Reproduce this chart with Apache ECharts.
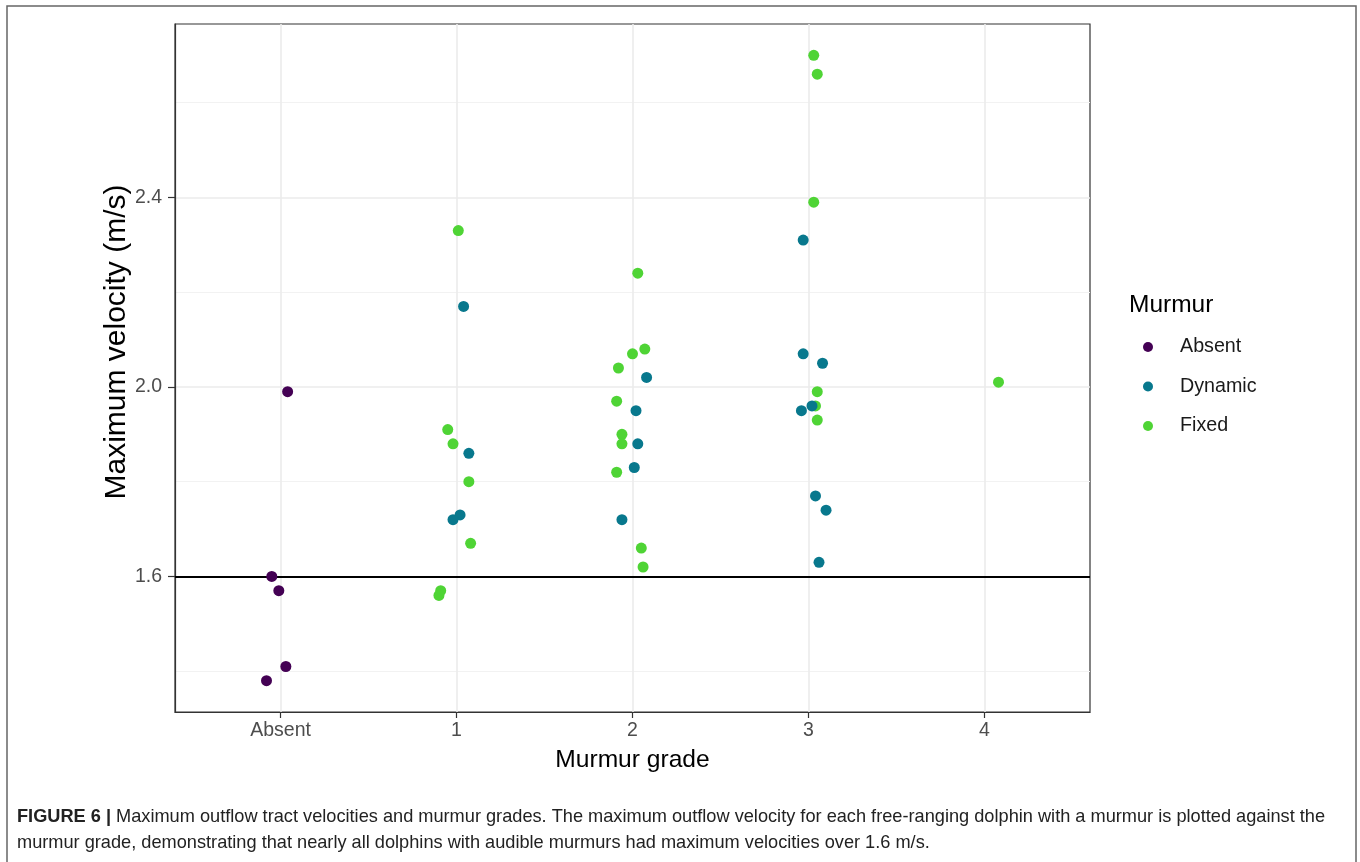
<!DOCTYPE html>
<html>
<head>
<meta charset="utf-8">
<title>Murmur grade vs maximum velocity</title>
<script src="https://cdn.jsdelivr.net/npm/echarts@6/dist/echarts.min.js"></script>
<style>
  html, body { margin: 0; padding: 0; background: #fff; }
  #chart { width: 1360px; height: 862px; }
</style>
</head>
<body>
<div id="chart"></div>
<script>
const FONT = '"Liberation Sans", Arial, Helvetica, sans-serif'

// grade categories sit at 0..4 on a numeric axis so the jitter can be kept
const gradeTicks = [0, 1, 2, 3, 4]
const gradeLabels = ['Absent', '1', '2', '3', '4']
const yMajor = [1.6, 2.0, 2.4]
const yMinor = [1.4, 1.8, 2.2, 2.6]
const threshold = 1.6

// points: x = grade position + jitter, y = max velocity (m/s)
const absentX = [0.04, -0.05, -0.01, 0.03, -0.08]
const absentY = [1.99, 1.60, 1.57, 1.41, 1.38]

const dynamicX = [1.04, 1.07, 1.02, 0.98,
  2.08, 2.02, 2.03, 2.01, 1.94,
  2.97, 2.97, 3.08, 3.02, 2.96, 3.04, 3.10, 3.06]
const dynamicY = [2.17, 1.86, 1.73, 1.72,
  2.02, 1.95, 1.88, 1.83, 1.72,
  2.31, 2.07, 2.05, 1.96, 1.95, 1.77, 1.74, 1.63]

const fixedX = [1.01, 0.95, 0.98, 1.07, 1.08, 0.91, 0.90,
  2.03, 2.07, 2.00, 1.92, 1.91, 1.94, 1.94, 1.91, 2.05, 2.06,
  3.03, 3.05, 3.03, 3.05, 3.04, 3.05,
  4.08]
const fixedY = [2.33, 1.91, 1.88, 1.80, 1.67, 1.57, 1.56,
  2.24, 2.08, 2.07, 2.04, 1.97, 1.90, 1.88, 1.82, 1.66, 1.62,
  2.70, 2.66, 2.39, 1.99, 1.96, 1.93,
  2.01]

const COLORS = { Absent: '#440154', Dynamic: '#08788d', Fixed: '#4fd435' }

const zip = (xs, ys) => xs.map((x, i) => [x, ys[i]])

const chart = echarts.init(document.getElementById('chart'))

function pointSeries(name, xs, ys, extra) {
  return Object.assign({
    name: name,
    type: 'scatter',
    symbol: 'circle',
    symbolSize: 11,
    itemStyle: { color: COLORS[name], opacity: 1 },
    emphasis: { disabled: true },
    data: zip(xs, ys)
  }, extra || {})
}

const axisLineStyle = { color: '#333', width: 1.2 }

const option = {
  animation: false,
  backgroundColor: '#fff',
  textStyle: { fontFamily: FONT },
  title: {
    text: 'Murmur',
    left: 1124,
    top: 288,
    textStyle: { fontSize: 24.5, fontWeight: 'normal', color: '#000', fontFamily: FONT }
  },
  legend: {
    orient: 'vertical',
    left: 1138,
    top: 332,
    itemWidth: 54,
    itemHeight: 10,
    itemGap: 19.5,
    icon: 'circle',
    data: ['Absent', 'Dynamic', 'Fixed'],
    textStyle: { fontSize: 19.7, color: '#1a1a1a', fontFamily: FONT }
  },
  grid: {
    left: 175,
    top: 24,
    right: 270,
    bottom: 150,
    show: true,
    backgroundColor: '#fff',
    borderColor: '#333',
    borderWidth: 1.2
  },
  xAxis: {
    type: 'value',
    min: -0.6,
    max: 4.6,
    name: 'Murmur grade',
    nameLocation: 'middle',
    nameGap: 36,
    nameTextStyle: { fontSize: 24.6, color: '#000', fontFamily: FONT },
    axisLine: { show: true, onZero: false, lineStyle: axisLineStyle },
    axisTick: { show: true, length: 6, customValues: gradeTicks, lineStyle: axisLineStyle },
    axisLabel: {
      customValues: gradeTicks,
      margin: 9,
      fontSize: 19.5,
      color: '#4d4d4d',
      fontFamily: FONT,
      formatter: v => gradeLabels[Math.round(v)]
    },
    splitLine: { show: true, lineStyle: { color: '#ebebeb', width: 1.6 } }
  },
  yAxis: [{
    type: 'value',
    min: 1.314,
    max: 2.766,
    axisLine: { show: true, onZero: false, lineStyle: axisLineStyle },
    axisTick: { show: true, length: 7, customValues: yMajor, lineStyle: axisLineStyle },
    axisLabel: {
      customValues: yMajor,
      margin: 13,
      fontSize: 19.5,
      color: '#4d4d4d',
      fontFamily: FONT,
      formatter: v => v.toFixed(1)
    },
    splitLine: { show: true, lineStyle: { color: '#ebebeb', width: 1.6 } }
  }, {
    // hidden twin axis that only carries the minor grid lines
    type: 'value',
    min: 1.314,
    max: 2.766,
    position: 'right',
    axisLine: { show: false, onZero: false },
    axisTick: { show: false, customValues: yMinor },
    axisLabel: { show: false, customValues: yMinor },
    splitLine: { show: true, lineStyle: { color: '#f2f2f2', width: 1 } }
  }],
  graphic: [{
    type: 'rect',
    silent: true,
    shape: { x: 7, y: 6, width: 1349, height: 900 },
    style: { fill: 'none', stroke: '#666', lineWidth: 1.5 }
  }, {
    // y axis title, placed like the original (slightly above panel centre)
    type: 'text',
    silent: true,
    x: 117,
    y: 342,
    rotation: Math.PI / 2,
    style: {
      text: 'Maximum velocity (m/s)',
      fontSize: 30,
      fontFamily: FONT,
      fill: '#000',
      align: 'center',
      verticalAlign: 'middle'
    }
  }, {
    type: 'text',
    silent: true,
    x: 17,
    y: 804,
    style: {
      text: '{b|FIGURE 6 |} Maximum outflow tract velocities and murmur grades. The maximum outflow velocity for each free-ranging dolphin with a murmur is plotted against the\n' +
        'murmur grade, demonstrating that nearly all dolphins with audible murmurs had maximum velocities over 1.6 m/s.',
      fontSize: 18.2,
      fontFamily: FONT,
      fill: '#222',
      lineHeight: 26,
      verticalAlign: 'top',
      rich: {
        b: { fontWeight: 'bold', fontSize: 18.2, fontFamily: FONT, fill: '#222', lineHeight: 26 }
      }
    }
  }],
  series: [
    pointSeries('Absent', absentX, absentY, {
      markLine: {
        silent: true,
        symbol: 'none',
        z: 1,
        label: { show: false },
        emphasis: { disabled: true },
        lineStyle: { color: '#000', width: 2, type: 'solid' },
        data: [{ yAxis: threshold }]
      }
    }),
    pointSeries('Fixed', fixedX, fixedY),
    pointSeries('Dynamic', dynamicX, dynamicY)
  ]
}

chart.setOption(option)
window.addEventListener('resize', () => chart.resize())
</script>
</body>
</html>
